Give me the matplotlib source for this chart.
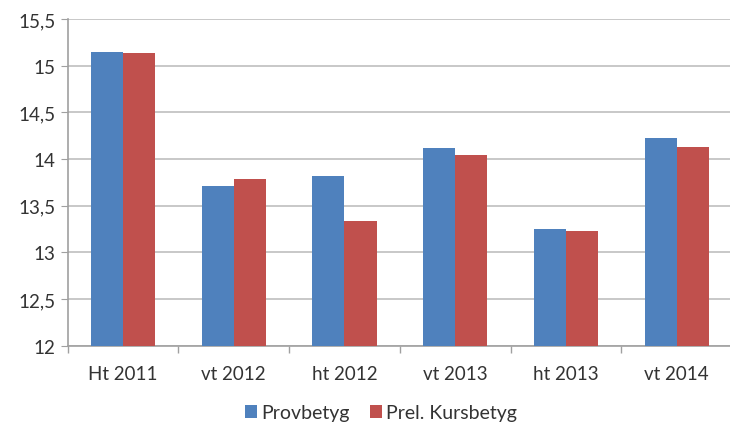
import matplotlib
matplotlib.use("Agg")
import matplotlib.pyplot as plt
import numpy as np
from matplotlib.ticker import FuncFormatter

categories = ["Ht 2011", "vt 2012", "ht 2012", "vt 2013", "ht 2013", "vt 2014"]
provbetyg = [15.15, 13.71, 13.82, 14.12, 13.25, 14.23]
kursbetyg = [15.14, 13.785, 13.34, 14.04, 13.23, 14.13]
series_names = ["Provbetyg", "Prel. Kursbetyg"]
colors = ["#4F81BD", "#C0504D"]

plt.rcParams['font.family'] = ['Lato', 'DejaVu Sans']

fig = plt.figure(figsize=(7.30, 4.27), dpi=100)
ax = fig.add_axes([67.7/730, 1-346.7/427, (732-67.7)/730, (346.7-20)/427])

x = np.arange(len(categories))
w = 0.29
ax.bar(x - w/2, provbetyg, w, color=colors[0], label=series_names[0], zorder=3)
ax.bar(x + w/2, kursbetyg, w, color=colors[1], label=series_names[1], zorder=3)

ax.set_ylim(12, 15.5)
ax.set_xlim(-0.5, len(categories) - 0.5)
ax.set_yticks(np.arange(12, 15.51, 0.5))
ax.yaxis.set_major_formatter(FuncFormatter(lambda v, p: (f"{v:g}").replace(".", ",")))
ax.grid(axis="y", color="#BFBFBF", linewidth=1.2, zorder=0)

ax.set_xticks(x)
ax.set_xticklabels(categories)
ax.set_xticks(np.arange(-0.5, len(categories), 1), minor=True)
ax.tick_params(axis="x", which="major", length=0, pad=14, labelsize=13.5, labelcolor="#333333")
ax.tick_params(axis="x", which="minor", length=5, color="#A0A0A0", width=1)
ax.tick_params(axis="y", length=5, color="#A0A0A0", labelsize=13.5, labelcolor="#333333", pad=4)

for s in ["top", "right"]:
    ax.spines[s].set_visible(False)
ax.spines["left"].set_color("#A0A0A0")
ax.spines["bottom"].set_color("#A0A0A0")
ax.spines["left"].set_linewidth(1.2)
ax.spines["bottom"].set_linewidth(1.2)

leg = fig.legend(loc="center", bbox_to_anchor=(0.522, 1-414/427), ncol=2, frameon=False,
                 fontsize=14, handlelength=0.62, handleheight=0.62, handletextpad=0.25,
                 columnspacing=1.0)
for t in leg.get_texts():
    t.set_color("#333333")

fig.savefig("out.png", dpi=100)
